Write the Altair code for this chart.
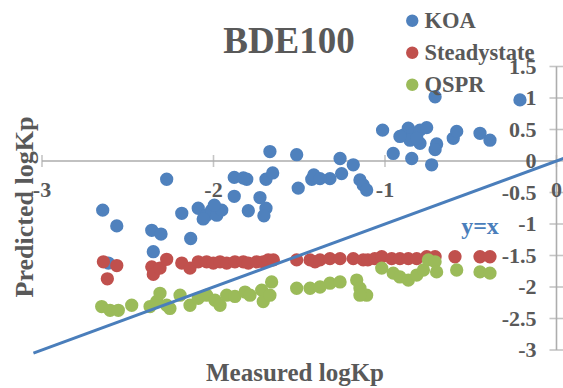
import altair as alt
import pandas as pd

# Series names and colours
series_names = ["KOA", "Steadystate", "QSPR"]
series_colors = ["#4F81BD", "#C0504D", "#9BBB59"]

# Measured vs predicted logKp for each prediction method
koa_measured = [-2.646, -2.564, -2.273, -2.360, -2.306, -2.351, -2.613, -2.185, -2.133, -2.089,
                -2.040, -2.011, -1.981, -1.952, -2.060, -1.995, -1.879, -1.806, -1.826, -1.879,
                -1.797, -1.729, -1.694, -1.706, -1.694, -1.655, -1.671, -1.515, -1.506, -1.427,
                -1.415, -1.321, -1.379, -1.262, -1.253, -1.185, -1.146, -1.127, -1.107, -1.014,
                -0.952, -0.844, -0.728, -0.708, -0.213, -0.893, -0.864, -0.835, -0.796, -0.757,
                -0.854, -0.796, -0.913, -0.815, -0.699, -0.708, -0.602, -0.582, -0.446, -0.388]
koa_predicted = [-0.78, -1.03, -0.29, -1.10, -1.16, -1.44, -1.62, -0.83, -1.23, -0.75,
                 -0.86, -0.78, -0.86, -0.78, -0.92, -0.70, -0.26, -0.29, -0.27, -0.56,
                 -0.79, -0.58, -0.75, -0.87, -0.29, -0.19, 0.15, 0.10, -0.43, -0.29,
                 -0.22, -0.28, -0.28, 0.04, -0.20, -0.06, -0.30, -0.38, -0.46, 0.49,
                 0.12, 0.04, -0.06, 1.02, 0.97, 0.41, 0.52, 0.44, 0.49, 0.53,
                 0.33, 0.28, 0.39, 0.36, 0.27, 0.18, 0.36, 0.47, 0.44, 0.33]

steady_measured = [-2.642, -2.564, -2.619, -2.360, -2.351, -2.312, -2.273, -2.185, -2.137, -2.089,
                   -2.040, -2.001, -1.962, -1.923, -1.875, -1.826, -1.797, -1.748, -1.710, -1.681,
                   -1.651, -1.515, -1.437, -1.408, -1.379, -1.321, -1.262, -1.185, -1.127, -1.100,
                   -1.060, -1.019, -0.961, -0.913, -0.864, -0.815, -0.757, -0.708, -0.592, -0.446,
                   -0.388]
steady_predicted = [-1.60, -1.66, -1.87, -1.68, -1.80, -1.70, -1.56, -1.62, -1.70, -1.60,
                    -1.60, -1.62, -1.60, -1.62, -1.60, -1.60, -1.62, -1.60, -1.60, -1.57,
                    -1.57, -1.57, -1.57, -1.60, -1.57, -1.55, -1.55, -1.55, -1.57, -1.57,
                    -1.55, -1.52, -1.55, -1.55, -1.55, -1.55, -1.52, -1.52, -1.52, -1.52,
                    -1.52]

qspr_measured = [-2.652, -2.603, -2.555, -2.477, -2.370, -2.331, -2.312, -2.273, -2.254, -2.195,
                 -2.137, -2.089, -2.040, -1.991, -1.962, -1.923, -1.875, -1.816, -1.787, -1.719,
                 -1.710, -1.661, -1.671, -1.515, -1.437, -1.379, -1.321, -1.262, -1.165, -1.146,
                 -1.107, -1.146, -1.019, -0.952, -0.913, -0.864, -0.815, -0.776, -0.747, -0.708,
                 -0.699, -0.582, -0.446, -0.388]
qspr_predicted = [-2.31, -2.37, -2.37, -2.29, -2.31, -2.23, -2.10, -2.29, -2.34, -2.13,
                  -2.29, -2.18, -2.13, -2.21, -2.29, -2.13, -2.15, -2.08, -2.13, -2.05,
                  -2.23, -1.92, -2.13, -2.02, -2.02, -2.00, -1.94, -1.92, -1.89, -2.02,
                  -2.13, -2.13, -1.70, -1.78, -1.84, -1.89, -1.81, -1.73, -1.57, -1.60,
                  -1.76, -1.73, -1.76, -1.78]

# Axis ticks and their labels
x_ticks = [-3, -2, -1, 0]
x_tick_labels = ["-3", "-2", "-1", "0"]
y_ticks = [1.5, 1, 0.5, 0, -0.5, -1, -1.5, -2, -2.5, -3]
y_tick_labels = ["1.5", "1", "0.5", "0", "-0.5", "-1", "-1.5", "-2", "-2.5", "-3"]

# End points of the y = x reference line
identity_ends = [-3.05, 0.05]

FONT = "Liberation Serif"
TEXT_GRAY = "#595959"
AXIS_GRAY = "#ADADAD"

points = pd.concat([
    pd.DataFrame({"measured": koa_measured, "predicted": koa_predicted, "series": "KOA"}),
    pd.DataFrame({"measured": steady_measured, "predicted": steady_predicted, "series": "Steadystate"}),
    pd.DataFrame({"measured": qspr_measured, "predicted": qspr_predicted, "series": "QSPR"}),
], ignore_index=True)
points["draw_order"] = range(len(points))

x_scale = alt.Scale(domain=[-3, 0], nice=False, zero=False)
y_scale = alt.Scale(domain=[-3, 1.5], nice=False, zero=False)


def xq(field):
    return alt.X(field, type="quantitative", scale=x_scale, axis=None)


def yq(field):
    return alt.Y(field, type="quantitative", scale=y_scale, axis=None)


# Axes crossing at the origin
x_axis_line = alt.Chart(pd.DataFrame({"a": [x_ticks[0]], "b": [x_ticks[-1]], "c": [0]})).mark_rule(
    color=AXIS_GRAY, strokeWidth=1.6
).encode(x=xq("a"), x2="b", y=yq("c"))

y_axis_line = alt.Chart(pd.DataFrame({"a": [0], "b": [y_ticks[-1]], "c": [y_ticks[0]]})).mark_rule(
    color=AXIS_GRAY, strokeWidth=1.6
).encode(x=xq("a"), y=yq("b"), y2="c")

x_tick_df = pd.DataFrame({"v": x_ticks, "zero": 0, "label": x_tick_labels})
y_tick_df = pd.DataFrame({"v": y_ticks, "zero": 0, "label": y_tick_labels})

x_tick_marks = alt.Chart(x_tick_df).mark_tick(
    orient="vertical", size=12, thickness=1.6, color=AXIS_GRAY
).encode(x=xq("v"), y=yq("zero"))

y_tick_marks = alt.Chart(y_tick_df).mark_tick(
    orient="horizontal", size=14, thickness=1.6, color=AXIS_GRAY
).encode(x=xq("zero"), y=yq("v"))

x_tick_text = alt.Chart(x_tick_df).mark_text(
    font=FONT, fontSize=22, fontWeight="bold", color=TEXT_GRAY,
    align="center", baseline="alphabetic", dy=36
).encode(x=xq("v"), y=yq("zero"), text="label:N")

y_tick_text = alt.Chart(y_tick_df).mark_text(
    font=FONT, fontSize=22, fontWeight="bold", color=TEXT_GRAY,
    align="right", baseline="alphabetic", dx=-20, dy=7
).encode(x=xq("zero"), y=yq("v"), text="label:N")

scatter = alt.Chart(points).mark_circle(size=177, opacity=1).encode(
    x=xq("measured"),
    y=yq("predicted"),
    order=alt.Order("draw_order:Q"),
    color=alt.Color(
        "series:N",
        scale=alt.Scale(domain=series_names, range=series_colors),
        legend=alt.Legend(
            title=None, orient="none", legendX=359, legendY=-57, padding=0,
            symbolType="circle", symbolSize=154, symbolOpacity=1, symbolStrokeWidth=0,
            labelFont=FONT, labelFontSize=22.5, labelFontWeight="bold", labelColor=TEXT_GRAY,
            labelOffset=1, rowPadding=9,
        ),
    ),
)

identity_line = alt.Chart(pd.DataFrame({"m": identity_ends, "p": identity_ends})).mark_line(
    color="#4A7EBB", strokeWidth=3, clip=False
).encode(x=xq("m"), y=yq("p"))

identity_label = alt.Chart(pd.DataFrame({"t": ["y=x"]})).mark_text(
    font=FONT, fontSize=24, fontWeight="bold", color="#4A7EBB",
    align="center", baseline="alphabetic"
).encode(x=alt.value(438), y=alt.value(167), text="t:N")

title_text = alt.Chart(pd.DataFrame({"t": ["BDE100"]})).mark_text(
    font=FONT, fontSize=37, fontWeight="bold", color=TEXT_GRAY,
    align="center", baseline="alphabetic"
).encode(x=alt.value(247), y=alt.value(-13.5), text="t:N")

x_title = alt.Chart(pd.DataFrame({"t": ["Measured logKp"]})).mark_text(
    font=FONT, fontSize=25, fontWeight="bold", color=TEXT_GRAY,
    align="center", baseline="alphabetic"
).encode(x=alt.value(253), y=alt.value(314), text="t:N")

y_title = alt.Chart(pd.DataFrame({"t": ["Predicted logKp"]})).mark_text(
    font=FONT, fontSize=26, fontWeight="bold", color=TEXT_GRAY,
    align="center", baseline="alphabetic", angle=270
).encode(x=alt.value(-9), y=alt.value(140.5), text="t:N")

chart = alt.layer(
    x_axis_line, y_axis_line, x_tick_marks, y_tick_marks,
    scatter, identity_line,
    x_tick_text, y_tick_text, identity_label, title_text, x_title, y_title,
).properties(
    width=514.5,
    height=283.5,
    autosize=alt.AutoSizeParams(type="none"),
    padding={"left": 42, "top": 66.5, "right": 6.5, "bottom": 38},
    background="white",
).configure_view(stroke=None)

chart.save("out.html", embed_options={"renderer": "svg", "actions": False})
